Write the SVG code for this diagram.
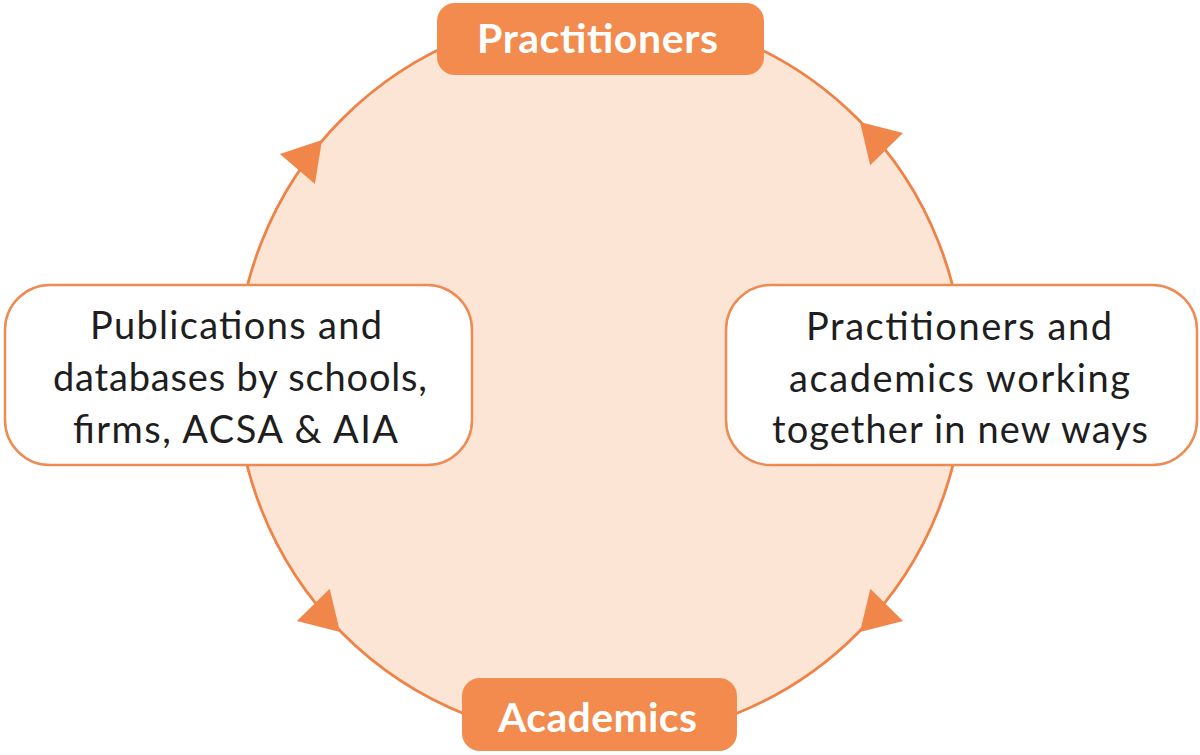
<svg xmlns="http://www.w3.org/2000/svg" width="1200" height="755" viewBox="0 0 1200 755">
<style>
.ring{fill:#FDE5D6;stroke:#EF8247;stroke-width:2.8}
.arrow{fill:#F0864A}
.side{fill:#FFFFFF;stroke:#EF8A52;stroke-width:2.5}
.label{fill:#F28B4D}
.lt{font-family:Lato,"Liberation Sans",sans-serif;font-weight:bold;font-size:41px;fill:#FFFFFF;text-anchor:middle}
.st{font-family:Lato,"Liberation Sans",sans-serif;font-size:38px;fill:#1E1E1E;text-anchor:middle}
</style>
<rect width="1200" height="755" fill="#FFFFFF"/>
<g id="cycle">
<circle class="ring" cx="600" cy="376" r="364"/>
</g>
<g id="connectors">
<polygon class="arrow" points="322,140 314.9,183.9 279.9,154.1"/>
<polygon class="arrow" points="860,122 903,133.1 870.2,165.3"/>
<polygon class="arrow" points="340,632 296.9,621 329.7,588.8"/>
<polygon class="arrow" points="860,632 903.1,621 870.3,588.8"/>
</g>
<g id="practitioners">
<rect class="label" x="437" y="3" width="327" height="72" rx="18"/>
<text class="lt" x="597.5" y="53" textLength="241" lengthAdjust="spacing">Practitioners</text>
</g>
<g id="academics">
<rect class="label" x="462" y="678" width="275" height="73" rx="18"/>
<text class="lt" x="597.5" y="732" textLength="199" lengthAdjust="spacing">Academics</text>
</g>
<g id="publications">
<rect class="side" x="5" y="285" width="467" height="180" rx="45"/>
<text class="st" x="236" y="338.5" textLength="292" lengthAdjust="spacing">Publications and</text>
<text class="st" x="240" y="391" textLength="374" lengthAdjust="spacing">databases by schools,</text>
<text class="st" x="235.5" y="443" textLength="325" lengthAdjust="spacing">firms, ACSA &amp; AIA</text>
</g>
<g id="collaboration">
<rect class="side" x="726" y="285" width="471" height="180" rx="45"/>
<text class="st" x="959" y="339.5" textLength="306" lengthAdjust="spacing">Practitioners and</text>
<text class="st" x="959.5" y="391.5" textLength="341" lengthAdjust="spacing">academics working</text>
<text class="st" x="960" y="443" textLength="376" lengthAdjust="spacing">together in new ways</text>
</g>
</svg>
